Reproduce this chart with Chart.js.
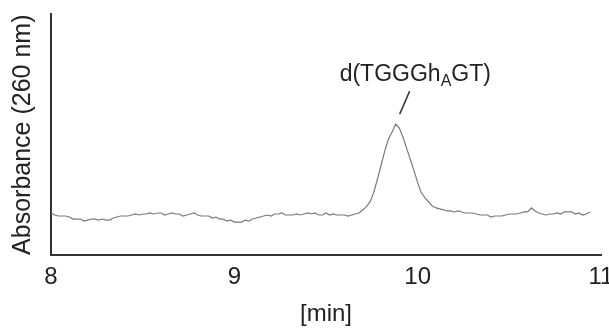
<!DOCTYPE html>
<html>
<head>
<meta charset="utf-8">
<script src="https://cdn.jsdelivr.net/npm/chart.js@4"></script>
<style>
  html, body { margin: 0; padding: 0; background: #fff; }
  #wrap { width: 609px; height: 331px; }
</style>
</head>
<body>
<div id="wrap"><canvas id="hplc"></canvas></div>
<script>
// retention time sampling (min)
const startTime = 8.0;
const timeStep = 0.02;
// absorbance trace at 260 nm (arbitrary units)
const absorbance = [
  4.2, 4.0, 3.9, 3.9, 3.9, 3.8, 3.6, 3.6, 3.6, 3.4,
  3.5, 3.6, 3.6, 3.5, 3.6, 3.5, 3.5, 3.7, 3.8, 3.9,
  3.9, 3.9, 4.0, 4.1, 4.0, 4.1, 4.1, 4.2, 4.1, 4.2,
  4.2, 4.0, 4.1, 4.2, 4.1, 4.1, 3.9, 4.0, 4.1, 4.2,
  4.0, 3.9, 3.9, 3.9, 3.7, 3.8, 3.6, 3.6, 3.4, 3.5,
  3.3, 3.3, 3.3, 3.5, 3.4, 3.6, 3.7, 3.8, 3.9, 4.0,
  3.9, 4.1, 4.1, 4.2, 4.0, 4.0, 4.0, 4.1, 4.0, 4.1,
  4.2, 4.1, 4.2, 4.0, 4.0, 4.2, 4.0, 4.1, 4.0, 4.0,
  4.0, 3.9, 4.0, 4.1, 4.2, 4.5, 4.8, 5.3, 6.2, 7.5,
  8.9, 10.3, 11.5, 12.2, 13.0, 12.6, 11.7, 10.6, 9.5, 8.4,
  7.2, 6.2, 5.7, 5.3, 4.9, 4.7, 4.6, 4.5, 4.4, 4.4,
  4.3, 4.4, 4.3, 4.2, 4.2, 4.2, 4.1, 4.0, 4.0, 4.0,
  3.8, 3.9, 3.9, 3.9, 4.0, 4.1, 4.1, 4.1, 4.2, 4.3,
  4.3, 4.7, 4.4, 4.2, 4.1, 4.0, 4.1, 4.1, 4.2, 4.1,
  4.3, 4.3, 4.3, 4.1, 4.2, 4.0, 4.1, 4.3
];
const xTicks = [8, 9, 10, 11];
const peakLabel = ['d(TGGGh', 'A', 'GT)'];

const points = absorbance.map((v, i) => ({ x: +(startTime + i * timeStep).toFixed(2), y: v }));
const peakIdx = absorbance.indexOf(Math.max(...absorbance));

const FONT = '"Liberation Sans", Arial, Helvetica, sans-serif';
const INK = '#222';

const peakNote = {
  id: 'peakNote',
  afterDatasetsDraw(chart) {
    const { ctx, scales: { x, y } } = chart;
    const px = x.getPixelForValue(points[peakIdx].x);
    const py = y.getPixelForValue(points[peakIdx].y);
    ctx.save();
    ctx.strokeStyle = '#333';
    ctx.lineWidth = 1.5;
    ctx.beginPath();
    ctx.moveTo(px + 4, py - 10);
    ctx.lineTo(px + 14, py - 33);
    ctx.stroke();

    ctx.fillStyle = INK;
    ctx.textBaseline = 'alphabetic';
    ctx.textAlign = 'left';
    let tx = px - 56;
    const base = py - 43;
    ctx.font = '23px ' + FONT;
    ctx.fillText(peakLabel[0], tx, base);
    tx += ctx.measureText(peakLabel[0]).width;
    ctx.font = '16px ' + FONT;
    ctx.fillText(peakLabel[1], tx, base + 5);
    tx += ctx.measureText(peakLabel[1]).width;
    ctx.font = '23px ' + FONT;
    ctx.fillText(peakLabel[2], tx, base);
    ctx.restore();
  }
};

new Chart(document.getElementById('hplc'), {
  type: 'line',
  data: {
    datasets: [{
      data: points,
      borderColor: '#7a7a7a',
      borderWidth: 1.2,
      pointRadius: 0,
      tension: 0,
      fill: false
    }]
  },
  options: {
    responsive: true,
    maintainAspectRatio: false,
    animation: false,
    events: [],
    layout: { padding: { left: 8, right: 8, top: 14, bottom: 0 } },
    plugins: { legend: { display: false }, tooltip: { enabled: false } },
    scales: {
      x: {
        type: 'linear',
        min: 8,
        max: 11,
        afterBuildTicks: s => { s.ticks = xTicks.map(v => ({ value: v })); },
        afterFit: s => { s.paddingRight = 0; s.paddingLeft = 0; },
        grid: { display: false, drawTicks: false },
        border: { display: true, color: '#333', width: 2 },
        ticks: { color: INK, padding: 8, maxRotation: 0, font: { family: FONT, size: 24 } },
        title: {
          display: true,
          text: '[min]',
          color: INK,
          padding: { top: 0, bottom: 2 },
          font: { family: FONT, size: 24 }
        }
      },
      y: {
        min: 0,
        max: 23.9,
        grid: { display: false, drawTicks: false },
        border: { display: true, color: '#333', width: 2 },
        ticks: { display: false },
        title: {
          display: true,
          text: 'Absorbance (260 nm)',
          color: INK,
          padding: { top: 0, bottom: 13 },
          font: { family: FONT, size: 25 }
        }
      }
    }
  },
  plugins: [peakNote]
});
</script>
</body>
</html>
